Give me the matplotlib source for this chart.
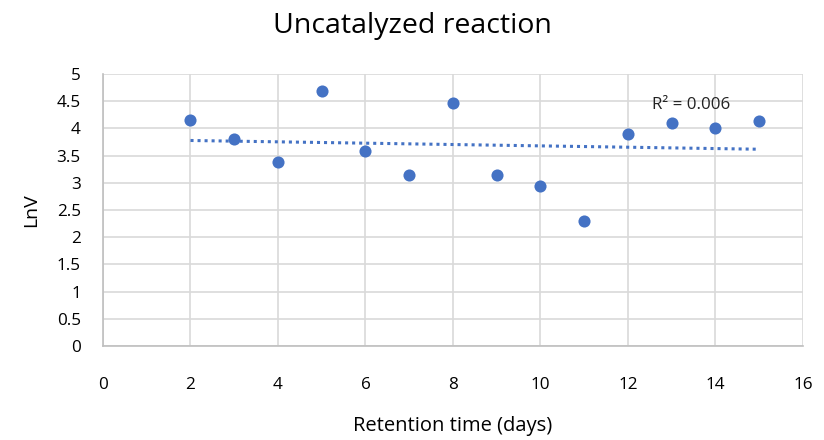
import matplotlib
matplotlib.use("Agg")
import matplotlib.pyplot as plt
import numpy as np

x_days = [2, 3, 4, 5, 6, 7, 8, 9, 10, 11, 12, 13, 14, 15]
lnv = [4.16, 3.80, 3.39, 4.69, 3.59, 3.14, 4.47, 3.14, 2.94, 2.30, 3.89, 4.09, 4.01, 4.14]
x_ticks = [0, 2, 4, 6, 8, 10, 12, 14, 16]
y_ticks = [0, 0.5, 1, 1.5, 2, 2.5, 3, 3.5, 4, 4.5, 5]
y_ticklabels = ["0", "0.5", "1", "1.5", "2", "2.5", "3", "3.5", "4", "4.5", "5"]

plt.rcParams['font.family'] = ['Open Sans', 'DejaVu Sans']
blue = '#4472C4'
grid = '#D9D9D9'

fig = plt.figure(figsize=(8.24, 4.4), dpi=100)
ax = fig.add_axes([0.125, 0.2136, 0.8495, 0.6184])

ax.scatter(x_days, lnv, s=76, color=blue, zorder=3, linewidths=0)

xa = np.array(x_days, float)
ya = np.array(lnv, float)
m, b = np.polyfit(xa, ya, 1)
pred = m * xa + b
r2 = 1 - np.sum((ya - pred) ** 2) / np.sum((ya - ya.mean()) ** 2)
xs = np.array([xa.min(), xa.max()])
ax.plot(xs, m * xs + b, linestyle=(0, (1, 1.3)), color=blue, lw=2.2, zorder=2)
ax.text(12.56, 4.42, f"R² = {r2:.3f}", fontsize=12.2, va='center', ha='left', color='#222222')

ax.set_xlim(0, 16)
ax.set_ylim(0, 5)
ax.set_xticks(x_ticks)
ax.set_yticks(y_ticks)
ax.set_yticklabels(y_ticklabels)
ax.grid(True, color=grid, lw=1.2)
ax.set_axisbelow(True)
for s in ['top', 'right']:
    ax.spines[s].set_visible(False)
for s in ['left', 'bottom']:
    ax.spines[s].set_color('#BFBFBF')
    ax.spines[s].set_linewidth(1.2)
ax.tick_params(axis='both', length=0, labelsize=12.3, colors='#000000')
ax.tick_params(axis='x', pad=22)
ax.tick_params(axis='y', pad=16)

ax.set_xlabel("Retention time (days)", fontsize=14.5, labelpad=17)
ax.set_ylabel("LnV", fontsize=14, labelpad=12)
fig.text(0.5, 0.94, "Uncatalyzed reaction", ha='center', va='center', fontsize=20.5)

fig.savefig("out.png", dpi=100, facecolor='white')
